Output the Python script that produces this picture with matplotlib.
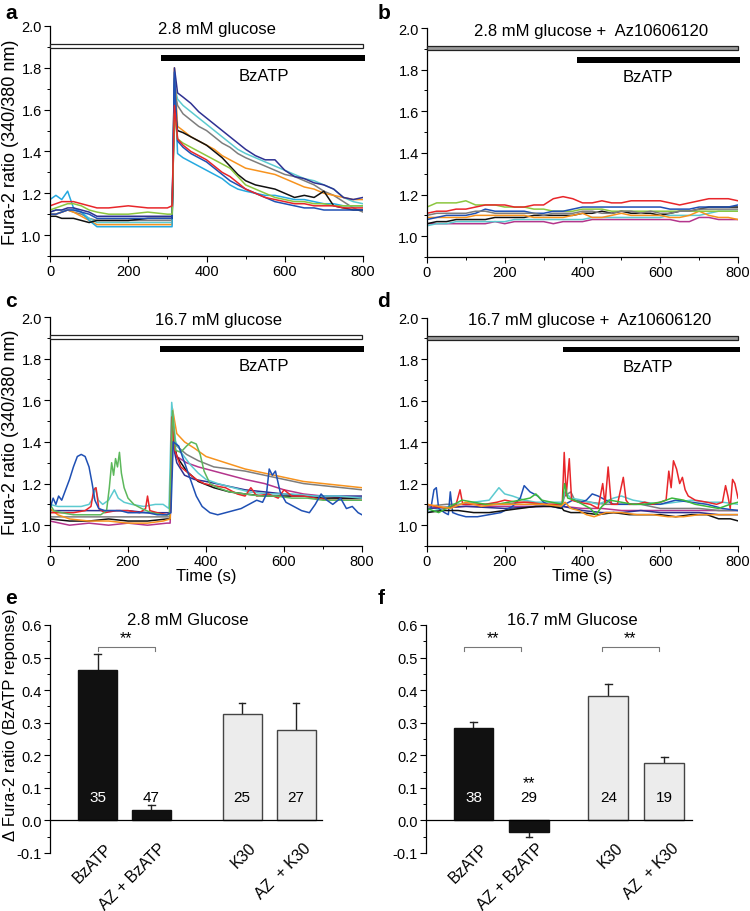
import matplotlib
matplotlib.use("Agg")
import matplotlib.pyplot as plt
from matplotlib.patches import Rectangle
from matplotlib.ticker import MultipleLocator, FormatStrFormatter

plt.rcParams['font.family'] = ['Liberation Sans', 'DejaVu Sans']

# ---- panel a : 2.8 mM glucose, BzATP ----
A_T = [0, 15, 30, 45, 60, 80, 100, 120, 150, 200, 250, 300, 312, 318, 326, 340, 360, 380,
       400, 420, 440, 460, 480, 500, 525, 550, 575, 600, 625, 650, 675, 700, 725, 750, 775, 800]
A_GREY = [1.10, 1.10, 1.11, 1.12, 1.11, 1.10, 1.08, 1.07, 1.07, 1.07, 1.07, 1.07, 1.07, 1.70,
          1.62, 1.58, 1.55, 1.52, 1.50, 1.47, 1.44, 1.42, 1.39, 1.37, 1.35, 1.33, 1.31, 1.29,
          1.28, 1.26, 1.24, 1.21, 1.19, 1.16, 1.13, 1.11]
A_CYAN = [1.11, 1.12, 1.12, 1.12, 1.12, 1.11, 1.08, 1.06, 1.06, 1.06, 1.06, 1.06, 1.06, 1.72,
          1.65, 1.62, 1.59, 1.56, 1.53, 1.50, 1.47, 1.44, 1.41, 1.39, 1.37, 1.35, 1.33, 1.31,
          1.29, 1.27, 1.26, 1.24, 1.22, 1.18, 1.16, 1.15]
A_ORANGE = [1.10, 1.10, 1.11, 1.12, 1.11, 1.09, 1.07, 1.05, 1.05, 1.05, 1.05, 1.05, 1.05, 1.80,
            1.52, 1.50, 1.47, 1.45, 1.43, 1.41, 1.38, 1.36, 1.34, 1.32, 1.31, 1.30, 1.29, 1.27,
            1.25, 1.23, 1.22, 1.20, 1.19, 1.18, 1.17, 1.17]
A_SKY = [1.17, 1.19, 1.17, 1.21, 1.13, 1.11, 1.07, 1.04, 1.04, 1.04, 1.04, 1.04, 1.04, 1.75,
         1.39, 1.37, 1.35, 1.33, 1.31, 1.29, 1.27, 1.24, 1.22, 1.21, 1.20, 1.19, 1.19, 1.18,
         1.17, 1.17, 1.16, 1.15, 1.15, 1.14, 1.14, 1.14]
A_BLACK = [1.09, 1.09, 1.08, 1.08, 1.08, 1.07, 1.06, 1.07, 1.07, 1.07, 1.08, 1.08, 1.08, 1.62,
           1.50, 1.49, 1.47, 1.45, 1.43, 1.40, 1.37, 1.33, 1.29, 1.26, 1.24, 1.23, 1.22, 1.20,
           1.18, 1.19, 1.18, 1.21, 1.14, 1.13, 1.12, 1.12]
A_NAVY = [1.11, 1.12, 1.12, 1.13, 1.13, 1.12, 1.11, 1.09, 1.09, 1.09, 1.09, 1.09, 1.09, 1.80,
          1.68, 1.66, 1.63, 1.59, 1.56, 1.53, 1.50, 1.47, 1.44, 1.41, 1.38, 1.36, 1.36, 1.31,
          1.28, 1.27, 1.25, 1.24, 1.22, 1.18, 1.17, 1.18]
A_ROYAL = [1.10, 1.10, 1.11, 1.12, 1.12, 1.11, 1.10, 1.08, 1.08, 1.08, 1.08, 1.08, 1.08, 1.78,
           1.45, 1.42, 1.39, 1.37, 1.35, 1.32, 1.29, 1.26, 1.24, 1.22, 1.20, 1.18, 1.16, 1.15,
           1.14, 1.13, 1.13, 1.12, 1.12, 1.12, 1.12, 1.12]
A_GREEN = [1.12, 1.13, 1.14, 1.15, 1.15, 1.14, 1.12, 1.11, 1.10, 1.10, 1.11, 1.10, 1.10, 1.58,
           1.46, 1.44, 1.42, 1.40, 1.38, 1.36, 1.34, 1.32, 1.28, 1.24, 1.22, 1.20, 1.18, 1.17,
           1.16, 1.16, 1.15, 1.15, 1.14, 1.14, 1.14, 1.14]
A_RED = [1.14, 1.15, 1.16, 1.16, 1.16, 1.15, 1.14, 1.13, 1.13, 1.14, 1.13, 1.13, 1.14, 1.62,
         1.46, 1.43, 1.40, 1.38, 1.36, 1.33, 1.30, 1.28, 1.25, 1.22, 1.20, 1.18, 1.17, 1.16,
         1.15, 1.15, 1.14, 1.14, 1.14, 1.13, 1.13, 1.13]

# ---- panel b : 2.8 mM glucose + Az10606120 ----
B_T = [0, 25, 50, 75, 100, 125, 150, 175, 200, 225, 250, 275, 300, 325, 350, 375, 400,
       425, 450, 475, 500, 525, 550, 575, 600, 625, 650, 675, 700, 725, 750, 775, 800]
B_MAGENTA = [1.06, 1.06, 1.06, 1.06, 1.06, 1.06, 1.06, 1.07, 1.06, 1.07, 1.07, 1.07, 1.07, 1.06,
             1.07, 1.07, 1.07, 1.08, 1.08, 1.08, 1.08, 1.08, 1.08, 1.08, 1.08, 1.08, 1.07, 1.07,
             1.09, 1.09, 1.08, 1.08, 1.08]
B_CYAN = [1.05, 1.06, 1.06, 1.07, 1.07, 1.07, 1.07, 1.07, 1.07, 1.08, 1.08, 1.08, 1.08, 1.08,
          1.08, 1.08, 1.08, 1.09, 1.09, 1.09, 1.09, 1.09, 1.09, 1.09, 1.09, 1.10, 1.10, 1.10,
          1.10, 1.11, 1.12, 1.12, 1.12]
B_BLACK = [1.06, 1.07, 1.07, 1.08, 1.08, 1.08, 1.08, 1.09, 1.09, 1.09, 1.09, 1.10, 1.10, 1.10,
           1.10, 1.10, 1.11, 1.11, 1.12, 1.11, 1.12, 1.11, 1.11, 1.11, 1.10, 1.11, 1.12, 1.12,
           1.13, 1.14, 1.14, 1.14, 1.14]
B_ORANGE = [1.09, 1.09, 1.09, 1.09, 1.09, 1.10, 1.10, 1.10, 1.10, 1.10, 1.10, 1.09, 1.09, 1.09,
            1.09, 1.10, 1.11, 1.09, 1.09, 1.10, 1.11, 1.10, 1.10, 1.10, 1.10, 1.09, 1.09, 1.10,
            1.12, 1.10, 1.09, 1.09, 1.08]
B_LIME = [1.14, 1.16, 1.16, 1.16, 1.17, 1.15, 1.15, 1.15, 1.14, 1.14, 1.14, 1.13, 1.13, 1.12,
          1.12, 1.12, 1.13, 1.13, 1.13, 1.12, 1.12, 1.12, 1.12, 1.12, 1.12, 1.12, 1.12, 1.12,
          1.12, 1.12, 1.12, 1.12, 1.12]
B_BLUE = [1.08, 1.09, 1.10, 1.10, 1.10, 1.11, 1.13, 1.12, 1.12, 1.12, 1.12, 1.11, 1.11, 1.12,
          1.12, 1.13, 1.14, 1.14, 1.14, 1.14, 1.14, 1.14, 1.14, 1.14, 1.14, 1.13, 1.13, 1.13,
          1.14, 1.14, 1.14, 1.14, 1.15]
B_RED = [1.11, 1.12, 1.12, 1.13, 1.13, 1.14, 1.15, 1.15, 1.15, 1.14, 1.14, 1.15, 1.15, 1.18,
         1.19, 1.18, 1.16, 1.16, 1.17, 1.16, 1.16, 1.17, 1.17, 1.17, 1.17, 1.16, 1.15, 1.16,
         1.17, 1.18, 1.18, 1.18, 1.17]
B_GREY = [1.10, 1.11, 1.11, 1.11, 1.11, 1.12, 1.12, 1.11, 1.11, 1.11, 1.11, 1.11, 1.10, 1.11,
          1.11, 1.11, 1.12, 1.12, 1.11, 1.11, 1.12, 1.12, 1.11, 1.12, 1.11, 1.11, 1.12, 1.12,
          1.13, 1.13, 1.13, 1.13, 1.13]

# ---- panel c : 16.7 mM glucose, BzATP  (time, ratio) ----
C_MAGENTA = [(0, 1.02), (25, 1.01), (50, 1.00), (100, 1.01), (150, 1.00), (200, 1.01), (250, 1.00),
             (300, 1.01), (308, 1.01), (314, 1.45), (325, 1.33), (350, 1.30), (380, 1.28),
             (420, 1.26), (460, 1.24), (500, 1.22), (550, 1.20), (600, 1.17), (650, 1.15),
             (700, 1.14), (750, 1.13), (800, 1.13)]
C_BLACK = [(0, 1.03), (50, 1.02), (100, 1.02), (150, 1.03), (200, 1.02), (250, 1.02), (300, 1.03),
           (308, 1.03), (314, 1.42), (325, 1.33), (350, 1.26), (380, 1.21), (420, 1.18),
           (460, 1.16), (500, 1.15), (550, 1.14), (600, 1.14), (650, 1.14), (700, 1.13),
           (750, 1.13), (800, 1.13)]
C_GREY = [(0, 1.04), (50, 1.04), (100, 1.04), (150, 1.04), (200, 1.04), (250, 1.04), (300, 1.04),
          (308, 1.04), (314, 1.45), (325, 1.38), (350, 1.34), (380, 1.31), (420, 1.28),
          (460, 1.27), (500, 1.26), (550, 1.24), (600, 1.22), (650, 1.20), (700, 1.19),
          (750, 1.18), (800, 1.17)]
C_NAVY = [(0, 1.07), (50, 1.07), (100, 1.07), (150, 1.07), (200, 1.07), (250, 1.06), (300, 1.06),
          (308, 1.06), (314, 1.40), (325, 1.30), (345, 1.24), (370, 1.22), (400, 1.21),
          (450, 1.19), (500, 1.17), (550, 1.16), (600, 1.15), (650, 1.14), (700, 1.14),
          (750, 1.14), (800, 1.14)]
C_ORANGE = [(0, 1.08), (20, 1.05), (50, 1.03), (100, 1.02), (150, 1.02), (200, 1.01), (250, 1.01),
            (290, 1.02), (308, 1.03), (314, 1.56), (325, 1.44), (345, 1.40), (370, 1.37),
            (400, 1.33), (450, 1.30), (500, 1.27), (550, 1.25), (600, 1.23), (650, 1.21),
            (700, 1.20), (750, 1.19), (800, 1.18)]
C_CYAN = [(0, 1.10), (20, 1.09), (50, 1.09), (80, 1.09), (100, 1.10), (110, 1.13), (116, 1.18),
          (124, 1.12), (135, 1.10), (150, 1.12), (165, 1.17), (175, 1.13), (190, 1.11),
          (210, 1.10), (240, 1.09), (270, 1.10), (290, 1.10), (305, 1.08), (312, 1.59),
          (322, 1.40), (340, 1.34), (360, 1.29), (380, 1.25), (400, 1.22), (430, 1.20),
          (470, 1.18), (510, 1.16), (560, 1.15), (620, 1.15), (680, 1.14), (740, 1.14), (800, 1.13)]
C_RED = [(0, 1.06), (30, 1.06), (60, 1.06), (90, 1.07), (105, 1.09), (112, 1.17), (118, 1.18),
         (125, 1.08), (140, 1.06), (170, 1.07), (200, 1.07), (230, 1.06), (245, 1.08), (250, 1.14),
         (256, 1.07), (275, 1.06), (300, 1.05), (308, 1.06), (312, 1.52), (320, 1.36), (335, 1.28),
         (355, 1.25), (375, 1.22), (395, 1.20), (420, 1.19), (450, 1.18), (480, 1.15), (500, 1.14),
         (515, 1.18), (530, 1.14), (560, 1.15), (585, 1.13), (600, 1.17), (620, 1.14), (650, 1.14),
         (680, 1.13), (720, 1.12), (760, 1.12), (800, 1.12)]
C_GREEN = [(0, 1.10), (10, 1.07), (30, 1.06), (60, 1.05), (100, 1.05), (130, 1.05), (145, 1.07),
           (152, 1.18), (158, 1.30), (163, 1.24), (168, 1.32), (173, 1.28), (178, 1.35), (183, 1.25),
           (190, 1.18), (200, 1.13), (215, 1.10), (235, 1.08), (260, 1.06), (290, 1.05), (306, 1.05),
           (314, 1.55), (322, 1.36), (335, 1.35), (350, 1.38), (362, 1.40), (375, 1.39), (385, 1.34),
           (395, 1.26), (410, 1.20), (430, 1.18), (460, 1.16), (500, 1.15), (540, 1.14), (580, 1.14),
           (620, 1.13), (660, 1.13), (700, 1.12), (750, 1.12), (800, 1.12)]
C_BLUE = [(0, 1.08), (8, 1.13), (15, 1.10), (22, 1.14), (30, 1.12), (40, 1.17), (50, 1.22), (60, 1.28),
          (70, 1.33), (80, 1.34), (90, 1.33), (100, 1.28), (108, 1.20), (115, 1.12), (125, 1.08),
          (140, 1.07), (160, 1.07), (180, 1.07), (200, 1.06), (225, 1.06), (250, 1.06), (275, 1.05),
          (300, 1.05), (310, 1.06), (316, 1.40), (330, 1.38), (345, 1.30), (360, 1.22), (375, 1.14),
          (390, 1.09), (410, 1.06), (430, 1.05), (450, 1.06), (470, 1.07), (490, 1.08), (510, 1.10),
          (530, 1.12), (545, 1.11), (555, 1.15), (562, 1.27), (570, 1.24), (578, 1.26), (590, 1.16),
          (605, 1.11), (625, 1.09), (645, 1.07), (665, 1.06), (680, 1.10), (695, 1.15), (710, 1.12),
          (725, 1.10), (745, 1.13), (760, 1.08), (775, 1.09), (790, 1.06), (800, 1.05)]

# ---- panel d : 16.7 mM glucose + Az10606120 ----
D_MAGENTA = [(0, 1.08), (100, 1.09), (200, 1.09), (300, 1.09), (350, 1.09), (400, 1.08), (450, 1.08),
             (500, 1.07), (550, 1.07), (600, 1.07), (650, 1.07), (700, 1.07), (750, 1.07), (800, 1.07)]
D_NAVY = [(0, 1.08), (100, 1.09), (200, 1.08), (300, 1.09), (350, 1.09), (400, 1.07), (450, 1.06),
          (500, 1.06), (550, 1.07), (600, 1.06), (650, 1.06), (700, 1.06), (750, 1.05), (800, 1.05)]
D_GREY = [(0, 1.09), (50, 1.10), (100, 1.10), (150, 1.10), (200, 1.10), (250, 1.11), (300, 1.10),
          (348, 1.10), (354, 1.14), (370, 1.16), (380, 1.12), (420, 1.11), (460, 1.10), (500, 1.10),
          (550, 1.10), (600, 1.08), (650, 1.08), (700, 1.08), (750, 1.07), (800, 1.07)]
D_CYAN = [(0, 1.06), (40, 1.08), (80, 1.10), (120, 1.11), (160, 1.12), (185, 1.18), (200, 1.15),
          (220, 1.14), (250, 1.12), (280, 1.11), (320, 1.11), (348, 1.11), (355, 1.16), (370, 1.13),
          (400, 1.12), (440, 1.10), (480, 1.13), (500, 1.14), (530, 1.12), (560, 1.11), (600, 1.10),
          (640, 1.11), (680, 1.12), (720, 1.11), (760, 1.11), (800, 1.10)]
D_BLUE = [(0, 1.07), (10, 1.08), (18, 1.17), (24, 1.18), (30, 1.08), (45, 1.06), (55, 1.05), (60, 1.16),
          (66, 1.06), (80, 1.05), (100, 1.04), (130, 1.04), (160, 1.05), (190, 1.06), (220, 1.09),
          (240, 1.13), (250, 1.19), (265, 1.16), (285, 1.14), (300, 1.11), (320, 1.09), (345, 1.08),
          (355, 1.10), (375, 1.12), (395, 1.11), (410, 1.12), (425, 1.15), (440, 1.14), (460, 1.12),
          (480, 1.10), (520, 1.10), (560, 1.10), (600, 1.10), (640, 1.12), (680, 1.11), (720, 1.10),
          (760, 1.08), (800, 1.07)]
D_BLACK = [(0, 1.06), (40, 1.07), (80, 1.07), (120, 1.06), (160, 1.06), (200, 1.07), (240, 1.08),
           (280, 1.09), (320, 1.09), (348, 1.08), (352, 1.07), (370, 1.06), (400, 1.06), (440, 1.05),
           (480, 1.06), (520, 1.05), (560, 1.05), (600, 1.05), (640, 1.04), (680, 1.05), (720, 1.05),
           (750, 1.03), (780, 1.03), (800, 1.02)]
D_RED = [(0, 1.10), (20, 1.09), (50, 1.08), (75, 1.10), (85, 1.17), (92, 1.10), (120, 1.10), (150, 1.10),
         (180, 1.11), (200, 1.12), (230, 1.11), (260, 1.11), (300, 1.10), (330, 1.10), (348, 1.10),
         (353, 1.35), (358, 1.14), (366, 1.32), (372, 1.12), (390, 1.11), (420, 1.10), (440, 1.08),
         (452, 1.20), (458, 1.10), (466, 1.28), (474, 1.10), (490, 1.10), (505, 1.23), (512, 1.12),
         (520, 1.10), (540, 1.10), (560, 1.11), (580, 1.10), (600, 1.11), (615, 1.12), (622, 1.26),
         (628, 1.18), (634, 1.31), (642, 1.27), (650, 1.20), (657, 1.23), (664, 1.17), (672, 1.14),
         (690, 1.12), (720, 1.11), (745, 1.10), (760, 1.11), (768, 1.19), (774, 1.14), (780, 1.08),
         (786, 1.22), (792, 1.20), (800, 1.13)]
D_GREEN = [(0, 1.08), (15, 1.07), (30, 1.06), (60, 1.09), (90, 1.12), (120, 1.11), (150, 1.10),
           (180, 1.10), (210, 1.11), (240, 1.12), (265, 1.13), (280, 1.15), (295, 1.12), (320, 1.11),
           (348, 1.10), (354, 1.20), (362, 1.13), (380, 1.12), (400, 1.10), (420, 1.08), (435, 1.05),
           (450, 1.09), (470, 1.12), (500, 1.11), (530, 1.10), (560, 1.10), (600, 1.11), (630, 1.13),
           (660, 1.12), (690, 1.10), (720, 1.09), (750, 1.08), (780, 1.10), (800, 1.11)]
D_ORANGE = [(0, 1.10), (30, 1.09), (60, 1.08), (100, 1.11), (140, 1.09), (180, 1.10), (220, 1.10),
            (260, 1.10), (300, 1.10), (345, 1.09), (355, 1.11), (370, 1.08), (390, 1.07), (410, 1.05),
            (430, 1.04), (460, 1.06), (500, 1.06), (540, 1.05), (580, 1.05), (620, 1.04), (660, 1.04),
            (700, 1.05), (740, 1.05), (770, 1.05), (800, 1.05)]

# ---- bar panels e, f ----
BAR_LABELS = ['BzATP', 'AZ + BzATP', 'K30', 'AZ  + K30']
E_MEANS = [0.463, 0.033, 0.327, 0.277]
E_ERR = [0.047, 0.013, 0.033, 0.083]
E_N = ['35', '47', '25', '27']
F_MEANS = [0.285, -0.037, 0.381, 0.175]
F_ERR = [0.017, 0.013, 0.038, 0.019]
F_N = ['38', '29', '24', '19']

RED, LIME, GREEN = '#e8262a', '#8cc63f', '#5db85c'
BLACK, NAVY, ROYAL = '#111111', '#2e3192', '#1f50b4'
CYAN, GREY, ORANGE = '#5ccad0', '#7d7d7d', '#f7931e'
SKY, MAGENTA, DGREEN = '#25a9e0', '#b4358c', '#3cb83c'

fig = plt.figure(figsize=(7.5, 9.12), dpi=100)


def style_trace_axes(ax, ylabel=False, xlabel=False):
    ax.set_xlim(0, 800)
    ax.set_ylim(0.9, 2.0)
    for s in ['top', 'right']:
        ax.spines[s].set_visible(False)
    for s in ['left', 'bottom']:
        ax.spines[s].set_linewidth(0.9)
    ax.xaxis.set_major_locator(MultipleLocator(200))
    ax.xaxis.set_minor_locator(MultipleLocator(100))
    ax.set_yticks([1.0, 1.2, 1.4, 1.6, 1.8, 2.0])
    ax.yaxis.set_minor_locator(MultipleLocator(0.1))
    ax.yaxis.set_major_formatter(FormatStrFormatter('%.1f'))
    ax.tick_params(which='major', direction='out', length=4, width=0.8, labelsize=10.5, pad=2)
    ax.tick_params(which='minor', direction='out', length=2, width=0.7)
    if ylabel:
        ax.set_ylabel('Fura-2 ratio (340/380 nm)', fontsize=13, labelpad=2)
    if xlabel:
        ax.set_xlabel('Time (s)', fontsize=12, labelpad=0)


def condition_bars(ax, title, bz_start, face, title_x, bz_x):
    ax.add_patch(Rectangle((0, 1.893), 800, 0.02, facecolor=face, edgecolor='#222222',
                           linewidth=0.9, clip_on=False, zorder=5))
    ax.add_patch(Rectangle((bz_start, 1.834), 805 - bz_start, 0.025, facecolor='black',
                           edgecolor='none', clip_on=False, zorder=5))
    ax.text(title_x, 1.99, title, ha='center', va='center', fontsize=12)
    ax.text(bz_x, 1.765, 'BzATP', ha='center', va='center', fontsize=12)


# panel a
ax = fig.add_axes([0.0667, 0.7182, 0.4173, 0.2522])
for vals, c in [(A_GREY, GREY), (A_CYAN, CYAN), (A_ORANGE, ORANGE), (A_SKY, SKY),
                (A_BLACK, BLACK), (A_NAVY, NAVY), (A_ROYAL, ROYAL), (A_GREEN, LIME), (A_RED, RED)]:
    ax.plot(A_T, vals, color=c, lw=1.1)
style_trace_axes(ax, ylabel=True)
condition_bars(ax, '2.8 mM glucose', 284, 'white', 426, 546)

# panel b
ax = fig.add_axes([0.5693, 0.7171, 0.4147, 0.2511])
for vals, c in [(B_MAGENTA, MAGENTA), (B_CYAN, CYAN), (B_BLACK, BLACK), (B_ORANGE, ORANGE),
                (B_LIME, LIME), (B_BLUE, ROYAL), (B_RED, RED), (B_GREY, GREY)]:
    ax.plot(B_T, vals, color=c, lw=1.1)
style_trace_axes(ax)
condition_bars(ax, '2.8 mM glucose +  Az10606120', 386, '#9a9a9a', 423, 568)

# panel c
ax = fig.add_axes([0.0667, 0.4002, 0.416, 0.2511])
for tr, c in [(C_MAGENTA, MAGENTA), (C_BLACK, BLACK), (C_GREY, GREY), (C_NAVY, NAVY),
              (C_ORANGE, ORANGE), (C_CYAN, CYAN), (C_RED, RED), (C_GREEN, GREEN), (C_BLUE, ROYAL)]:
    t, v = zip(*tr)
    ax.plot(t, v, color=c, lw=1.1)
style_trace_axes(ax, ylabel=True, xlabel=True)
condition_bars(ax, '16.7 mM glucose', 282, 'white', 432, 548)

# panel d
ax = fig.add_axes([0.5693, 0.4005, 0.4147, 0.2500])
for tr, c in [(D_MAGENTA, MAGENTA), (D_NAVY, NAVY), (D_GREY, GREY), (D_CYAN, CYAN),
              (D_BLUE, ROYAL), (D_BLACK, BLACK), (D_RED, RED), (D_GREEN, DGREEN), (D_ORANGE, ORANGE)]:
    t, v = zip(*tr)
    ax.plot(t, v, color=c, lw=1.1)
style_trace_axes(ax, xlabel=True)
condition_bars(ax, '16.7 mM glucose +  Az10606120', 351, '#9a9a9a', 419, 569)


def bar_panel(ax, pos, means, errs, ns, xlim, title, title_x):
    colors = ['#111111', '#111111', '#ececec', '#ececec']
    edges = ['#111111', '#111111', '#444444', '#444444']
    ax.bar(pos, means, width=0.72, color=colors, edgecolor=edges, linewidth=1.0, zorder=2)
    for p, m, e in zip(pos, means, errs):
        top = m + e if m >= 0 else m - e
        ax.plot([p, p], [m, top], color='#222222', lw=1.0, zorder=1)
        ax.plot([p - 0.06, p + 0.06], [top, top], color='#222222', lw=1.0, zorder=1)
    for i, (p, n) in enumerate(zip(pos, ns)):
        tc = 'white' if i == 0 else 'black'
        ax.text(p, 0.072, n, ha='center', va='center', fontsize=11, color=tc, zorder=3)
    ax.set_xlim(*xlim)
    ax.set_ylim(-0.1, 0.6)
    ax.spines['top'].set_visible(False)
    ax.spines['right'].set_visible(False)
    ax.spines['bottom'].set_position(('data', 0))
    ax.spines['bottom'].set_linewidth(0.9)
    ax.spines['left'].set_linewidth(0.9)
    ax.set_yticks([-0.1, 0.0, 0.1, 0.2, 0.3, 0.4, 0.5, 0.6])
    ax.yaxis.set_minor_locator(MultipleLocator(0.05))
    ax.yaxis.set_major_formatter(FormatStrFormatter('%.1f'))
    ax.tick_params(axis='y', which='major', direction='out', length=4, width=0.8, labelsize=10.5, pad=2)
    ax.tick_params(axis='y', which='minor', direction='out', length=2, width=0.7)
    ax.set_xticks([p + 0.12 for p in pos])
    ax.set_xticklabels(BAR_LABELS, rotation=45, ha='right', rotation_mode='anchor', fontsize=11.5)
    ax.tick_params(axis='x', length=0, pad=14)
    ax.text(title_x, 0.618, title, transform=ax.get_yaxis_transform(), ha='center',
            va='center', fontsize=12)


def bracket(ax, x0, x1, y=0.532):
    ax.plot([x0, x0, x1, x1], [y - 0.012, y, y, y - 0.012], color='#777777', lw=0.8)
    ax.text((x0 + x1) / 2, y + 0.006, '**', ha='center', va='bottom', fontsize=11.5)


# panel e
ax = fig.add_axes([0.0667, 0.0636, 0.3627, 0.25])
bar_panel(ax, [1, 2, 3.68, 4.68], E_MEANS, E_ERR, E_N, (0.12, 5.16), '2.8 mM Glucose', 0.507)
ax.set_ylabel('\u0394 Fura-2 ratio (BzATP reponse)', fontsize=12)
ax.yaxis.set_label_coords(-0.118, 0.566)
bracket(ax, 1.0, 2.06)

# panel f
ax = fig.add_axes([0.568, 0.0636, 0.3547, 0.25])
bar_panel(ax, [1, 2, 3.43, 4.44], F_MEANS, F_ERR, F_N, (0.144, 4.94), '16.7 mM Glucose', 0.549)
bracket(ax, 0.83, 1.86)
bracket(ax, 3.31, 4.34)
ax.text(2.0, 0.115, '**', ha='center', va='center', fontsize=11.5)

# panel letters
for x, y, s in [(0.007, 0.985, 'a'), (0.503, 0.985, 'b'), (0.007, 0.669, 'c'),
                (0.503, 0.669, 'd'), (0.007, 0.344, 'e'), (0.503, 0.344, 'f')]:
    fig.text(x, y, s, fontsize=15, fontweight='bold', ha='left', va='center')

fig.savefig('out.png', dpi=100)
